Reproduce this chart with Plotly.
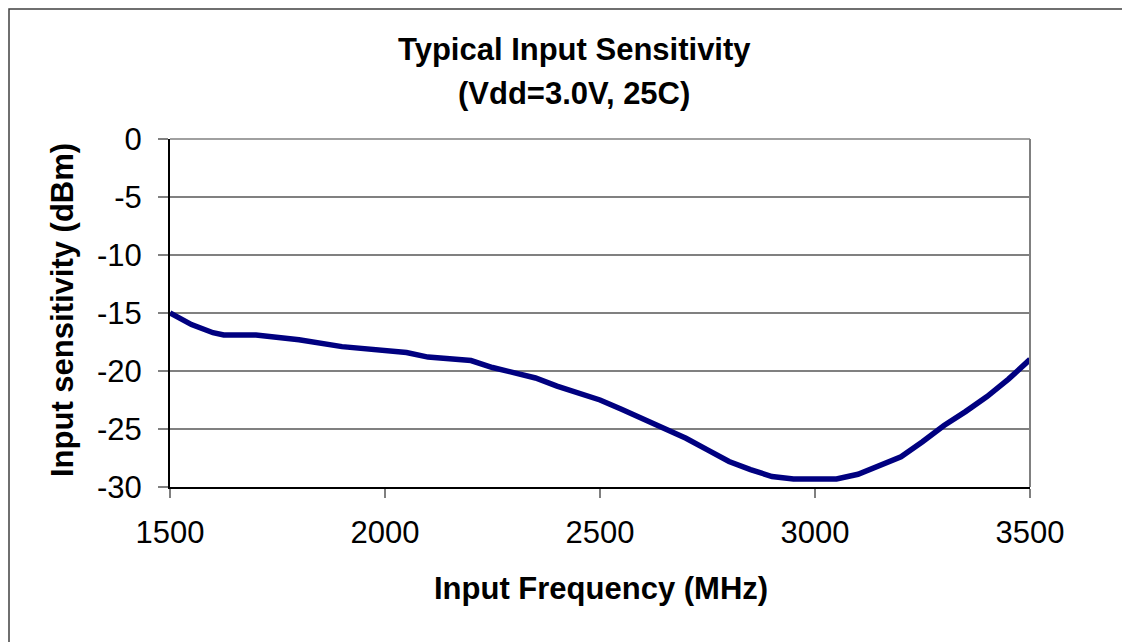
import plotly.graph_objects as go

freq_mhz = [1500, 1550, 1600, 1625, 1700, 1800, 1900, 2000, 2050, 2100, 2200, 2250,
            2300, 2350, 2400, 2450, 2500, 2550, 2600, 2650, 2700, 2750, 2800, 2850,
            2900, 2950, 3000, 3050, 3100, 3150, 3200, 3250, 3300, 3350, 3400, 3450, 3500]
sensitivity_dbm = [-15.0, -16.0, -16.7, -16.9, -16.9, -17.3, -17.9, -18.2, -18.4, -18.8, -19.1, -19.7,
                   -20.1, -20.6, -21.3, -21.9, -22.5, -23.3, -24.1, -24.9, -25.8, -26.8, -27.8, -28.5,
                   -29.1, -29.3, -29.3, -29.3, -28.9, -28.2, -27.4, -26.1, -24.7, -23.5, -22.2, -20.7, -19.0]
x_ticks = [1500, 2000, 2500, 3000, 3500]
y_ticks = [0, -5, -10, -15, -20, -25, -30]

OFF = 8  # default page body margin
W, H = 1130 - OFF, 642 - OFF
L, R, T, B = 170, 1030, 139, 487  # plot area in page pixels
pw, ph = R - L, B - T

def px(x):
    return (x - L) / pw

def py(y):
    return (B - y) / ph

FONT = "Liberation Sans, Arial, sans-serif"
FS = 31

fig = go.Figure()
fig.add_trace(go.Scatter(x=freq_mhz, y=sensitivity_dbm, mode="lines",
                         line=dict(color="#000080", width=5.5), showlegend=False,
                         cliponaxis=False))

fig.update_layout(
    width=W, height=H,
    margin=dict(l=L - OFF, r=W - (R - OFF), t=T - OFF, b=H - (B - OFF), pad=0),
    paper_bgcolor="white", plot_bgcolor="white",
    font=dict(family=FONT, size=FS, color="black"),
    xaxis=dict(range=[1500, 3500], tickvals=x_ticks, ticktext=[str(v) for v in x_ticks],
               showgrid=False, zeroline=False, showline=True, linecolor="black", linewidth=2,
               ticks="outside", ticklen=9, tickcolor="#808080", tickwidth=2,
               ticklabelstandoff=8,
               tickfont=dict(family=FONT, size=FS)),
    yaxis=dict(range=[-30, 0], tickvals=y_ticks, ticktext=[str(v) for v in y_ticks],
               showgrid=True, gridcolor="#808080", gridwidth=1.5, zeroline=False,
               showline=True, linecolor="black", linewidth=2,
               ticks="outside", ticklen=10, tickcolor="#808080", tickwidth=1.5,
               ticklabelstandoff=10,
               tickfont=dict(family=FONT, size=FS)),
    shapes=[
        dict(type="rect", xref="paper", yref="paper",
             x0=px(9), x1=px(1160), y0=py(9), y1=py(680),
             line=dict(color="#404040", width=1.5), fillcolor="rgba(0,0,0,0)", layer="below"),
        dict(type="line", xref="paper", yref="paper", x0=1, x1=1, y0=0, y1=1,
             line=dict(color="#808080", width=2)),
        dict(type="line", xref="paper", yref="paper", x0=0, x1=1, y0=1, y1=1,
             line=dict(color="#808080", width=1.5), layer="below"),
    ],
    annotations=[
        dict(text="<b>Typical Input Sensitivity</b>", xref="paper", yref="paper",
             x=px(574), y=py(50), showarrow=False, font=dict(family=FONT, size=FS),
             xanchor="center", yanchor="middle"),
        dict(text="<b>(Vdd=3.0V, 25C)</b>", xref="paper", yref="paper",
             x=px(574), y=py(93), showarrow=False, font=dict(family=FONT, size=FS),
             xanchor="center", yanchor="middle"),
        dict(text="<b>Input Frequency (MHz)</b>", xref="paper", yref="paper",
             x=px(601), y=py(588), showarrow=False, font=dict(family=FONT, size=FS),
             xanchor="center", yanchor="middle"),
        dict(text="<b>Input sensitivity (dBm)</b>", xref="paper", yref="paper",
             x=px(62), y=py(310), showarrow=False, font=dict(family=FONT, size=FS),
             textangle=-90, xanchor="center", yanchor="middle"),
    ],
)

fig.write_html("out.html")
